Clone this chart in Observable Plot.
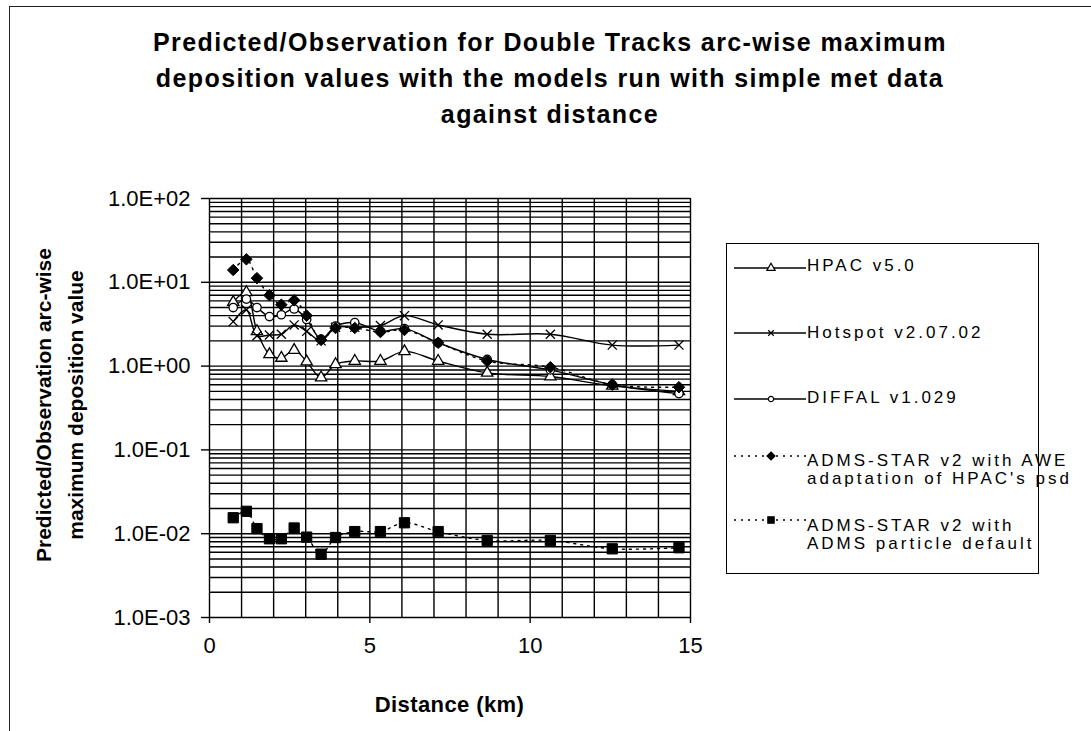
<!DOCTYPE html>
<html>
<head>
<meta charset="utf-8">
<script src="https://cdn.jsdelivr.net/npm/d3@7"></script>
<script src="https://cdn.jsdelivr.net/npm/@observablehq/plot@0.6"></script>
<style>
  html, body { margin: 0; padding: 0; background: #fff; overflow: hidden; }
  #wrap { position: relative; width: 1091px; height: 731px; font-family: "Liberation Sans", Arial, sans-serif; color: #000; }
  #chart { position: absolute; left: 0; top: 0; }
  .abs { position: absolute; }
  #frame { position: absolute; left: 9px; top: 6px; width: 1200px; height: 900px; border: 1.5px solid #222; pointer-events: none; }
  #title { left: 0; width: 1100px; top: 24px; text-align: center; font-weight: bold; font-size: 25px; line-height: 36px; letter-spacing: 1.4px; }
  #xlabel { left: 209px; width: 481px; top: 692px; text-align: center; font-weight: bold; font-size: 22px; letter-spacing: 0.4px; }
  #ylabel { left: 60px; top: 405px; width: 0; height: 0; }
  #ylabel div { position: absolute; transform: translate(-50%, -50%) rotate(-90deg); white-space: nowrap; font-weight: bold; font-size: 21px; line-height: 32px; text-align: center; }
  #legend { left: 726px; top: 243px; width: 311px; height: 329px; border: 1.5px solid #000; background: #fff; }
  .ltext { position: absolute; left: 80px; font-size: 17px; letter-spacing: 3px; white-space: nowrap; line-height: 17px; }
  .lsym { position: absolute; left: 7px; }
</style>
</head>
<body>
<div id="wrap">
  <div id="chart"></div>
  <div id="title" class="abs">Predicted/Observation for Double Tracks arc-wise maximum<br>deposition values with the models run with simple met data<br>against distance</div>
  <div id="xlabel" class="abs">Distance (km)</div>
  <div id="ylabel" class="abs"><div>Predicted/Observation arc-wise<br>maximum deposition value</div></div>
  <div id="legend" class="abs"></div>
  <div id="frame"></div>
</div>
<script>
// ---- data ----
const distance = [0.74, 1.15, 1.48, 1.87, 2.24, 2.64, 3.03, 3.48, 3.93, 4.53, 5.33, 6.08, 7.13, 8.66, 10.63, 12.56, 14.64];
const hpac = [5.8, 7.6, 2.6, 1.38, 1.25, 1.55, 1.13, 0.73, 1.05, 1.15, 1.15, 1.5, 1.15, 0.83, 0.75, 0.58, 0.5];
const hotspot = [3.4, 4.7, 2.3, 2.35, 2.4, 3.1, 2.6, 2.0, 2.9, 2.9, 3.05, 4.0, 3.1, 2.4, 2.4, 1.78, 1.78];
const diffal = [5.0, 6.3, 5.0, 3.9, 4.1, 4.8, 3.6, 2.1, 3.0, 3.3, 2.6, 2.8, 1.9, 1.2, 0.9, 0.6, 0.47];
const admsAwe = [14.0, 18.8, 11.2, 7.0, 5.4, 6.1, 4.0, 2.05, 2.85, 2.85, 2.55, 2.7, 1.9, 1.15, 0.97, 0.6, 0.56];
const admsDefault = [0.0155, 0.0185, 0.0115, 0.0087, 0.0087, 0.0117, 0.0091, 0.0057, 0.009, 0.0106, 0.0106, 0.0135, 0.0106, 0.0083, 0.0083, 0.0066, 0.0068];

const seriesNames = ["HPAC v5.0", "Hotspot v2.07.02", "DIFFAL v1.029",
  "ADMS-STAR v2 with AWE adaptation of HPAC's psd", "ADMS-STAR v2 with ADMS particle default"];
const seriesValues = [hpac, hotspot, diffal, admsAwe, admsDefault];

const xTicks = [0, 5, 10, 15];
const yTicks = [1e-3, 1e-2, 1e-1, 1e0, 1e1, 1e2];

// ---- derived tables ----
const xGrid = d3.range(0, 16);
const yGrid = [];
for (let e = -3; e < 2; e++) for (let k = 1; k < 10; k++) yGrid.push(k * Math.pow(10, e));
yGrid.push(100);

const table = seriesValues.map((vals, i) => vals.map((v, j) => ({series: seriesNames[i], x: distance[j], y: v})));

const styles = [
  {dash: null, symbol: "triangle", r: 4.2, fill: "white", sw: 1.3},
  {dash: null, symbol: "times", r: 4.2, fill: "none", sw: 1.3},
  {dash: null, symbol: "circle", r: 4.2, fill: "white", sw: 1.3},
  {dash: "2,5", symbol: "diamond2", r: 5.2, fill: "black", sw: 1},
  {dash: "2,5", symbol: "square", r: 5.8, fill: "black", sw: 1}
];

const fmt = d => {
  const s = d.toExponential(1).toUpperCase();
  return s.replace(/E([+-])(\d)$/, "E$10$2");
};

const lineMarks = table.map((rows, i) => Plot.line(rows, {
  x: "x", y: "y", curve: "catmull-rom", stroke: "black", strokeWidth: 1.4,
  strokeDasharray: styles[i].dash || undefined
}));
const dotMarks = table.map((rows, i) => Plot.dot(rows, {
  x: "x", y: "y", symbol: () => styles[i].symbol, r: styles[i].r,
  fill: styles[i].fill, stroke: "black", strokeWidth: styles[i].sw
}));

const chart = Plot.plot({
  width: 1091, height: 731,
  marginLeft: 209, marginRight: 401, marginTop: 198, marginBottom: 114,
  x: {domain: [0, 15]},
  y: {type: "log", domain: [1e-3, 1e2]},
  symbol: {type: "identity"},
  style: {fontFamily: "'Liberation Sans', Arial, sans-serif", fontSize: "22px", color: "black", background: "transparent"},
  marks: [
    Plot.gridX(xGrid, {stroke: "black", strokeOpacity: 1, strokeWidth: 1.4}),
    Plot.gridY(yGrid, {stroke: "black", strokeOpacity: 1, strokeWidth: 1.4}),
    Plot.axisY(yTicks, {tickFormat: fmt, tickSize: 8, tickPadding: 11, label: null, fontSize: 22, strokeWidth: 1.4}),
    Plot.axisX(xTicks, {tickSize: 6, tickPadding: 14, label: null, fontSize: 22, strokeWidth: 1.4}),
    ...lineMarks,
    ...dotMarks
  ]
});
document.getElementById("chart").appendChild(chart);

// ---- legend ----
const legend = document.getElementById("legend");
const legendRows = [
  {lines: ["HPAC v5.0"], base: [270 - 243], sample: 266.7 - 243},
  {lines: ["Hotspot v2.07.02"], base: [336.7 - 243], sample: 331.7 - 243},
  {lines: ["DIFFAL v1.029"], base: [401.7 - 243], sample: 397.7 - 243},
  {lines: ["ADMS-STAR v2 with AWE", "adaptation of HPAC's psd"], base: [465 - 243, 483 - 243], sample: 455 - 243},
  {lines: ["ADMS-STAR v2 with", "ADMS particle default"], base: [530 - 243, 548 - 243], sample: 519 - 243}
];
const legendSymbols = [
  {type: d3.symbolTriangle, size: 30, fill: "white"},
  {type: d3.symbolTimes, size: 22, fill: "none"},
  {type: d3.symbolCircle, size: 22, fill: "white"},
  {type: d3.symbolDiamond2, size: 40, fill: "black"},
  {type: d3.symbolSquare, size: 40, fill: "black"}
];
legendRows.forEach((row, i) => {
  const st = styles[i];
  const sym = legendSymbols[i];
  const svgNS = "http://www.w3.org/2000/svg";
  const svg = document.createElementNS(svgNS, "svg");
  svg.setAttribute("width", 74); svg.setAttribute("height", 16);
  svg.setAttribute("class", "lsym");
  svg.style.top = (row.sample - 8) + "px";
  const ln = document.createElementNS(svgNS, "line");
  ln.setAttribute("x1", 0); ln.setAttribute("x2", 72); ln.setAttribute("y1", 8); ln.setAttribute("y2", 8);
  ln.setAttribute("stroke", "black"); ln.setAttribute("stroke-width", 1.4);
  if (st.dash) ln.setAttribute("stroke-dasharray", "2,5");
  svg.appendChild(ln);
  const p = document.createElementNS(svgNS, "path");
  p.setAttribute("d", d3.symbol(sym.type, sym.size)());
  p.setAttribute("transform", "translate(37,8)");
  p.setAttribute("fill", sym.fill); p.setAttribute("stroke", "black"); p.setAttribute("stroke-width", 1.2);
  svg.appendChild(p);
  legend.appendChild(svg);
  row.lines.forEach((t, k) => {
    const d = document.createElement("div");
    d.className = "ltext";
    d.textContent = t;
    d.style.top = (row.base[k] - 14) + "px";
    legend.appendChild(d);
  });
});
</script>
</body>
</html>
